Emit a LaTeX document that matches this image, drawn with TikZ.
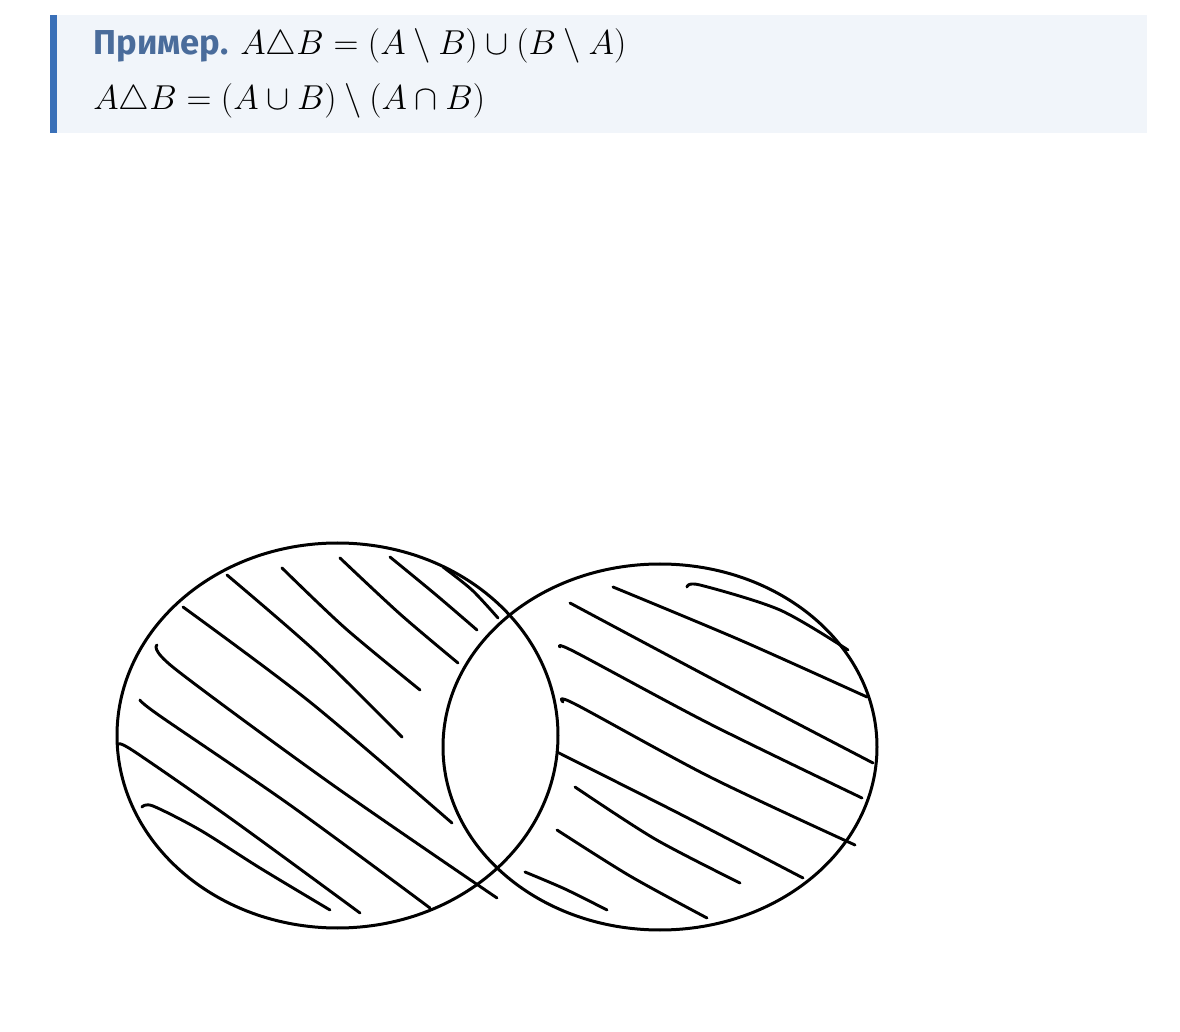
\documentclass[tikz,border=0pt]{standalone}
\usepackage{fontspec}
\newfontfamily\titlefont{Fira Sans}
\usepackage{amsmath}
\usepackage{amssymb}
\usepackage{xcolor}
\usetikzlibrary{calc}

\definecolor{boxbg}{RGB}{241,245,250}
\definecolor{barblue}{RGB}{58,112,184}
\definecolor{titleblue}{RGB}{74,108,155}

\begin{document}
\begin{tikzpicture}[x=0.5pt, y=-0.5pt,
        setline/.style = {draw=black, line width=1.5pt},
        hatch/.style   = {draw=black, line width=1.45pt, line cap=round, line join=round},
        eqtext/.style  = {anchor=base west, inner sep=0pt, font=\fontsize{16.9}{20}\selectfont},
        headtext/.style= {anchor=base west, inner sep=0pt, text=titleblue, font=\titlefont\bfseries\fontsize{17.3}{20}\selectfont}
    ]

    \useasboundingbox (0,0) rectangle (1180,1032);

    % --- HEADER: example box ---
    \fill[boxbg] (50,15) rectangle (1147,133);
    \fill[barblue] (50,15) rectangle (57,133);

    \node[headtext] (title) at (93,55)  {Пример.};
    \node[eqtext]   (eqA)   at (240,55) {$A\triangle B = (A\setminus B)\cup(B\setminus A)$};
    \node[eqtext]   (eqB)   at (93,110) {$A\triangle B = (A\cup B)\setminus(A\cap B)$};

    % --- SETS A and B ---
    \coordinate (setA) at (337.5,735.5);
    \coordinate (setB) at (660,747);

    \draw[setline] (setA) ellipse [x radius=220.5, y radius=192.5];
    \draw[setline] (setB) ellipse [x radius=217, y radius=183];

    % --- hatching of A \ B ---
    \draw[hatch] plot[smooth, tension=0.5] coordinates {(142,807) (153,806) (200,830) (260,868) (330,910)};
    \draw[hatch] plot[smooth, tension=0.5] coordinates {(118,745) (132,750) (230,818) (360,913)};
    \draw[hatch] plot[smooth, tension=0.5] coordinates {(140,700) (160,716) (290,805) (430,908)};
    \draw[hatch] plot[smooth, tension=0.5] coordinates {(157,645) (174,668) (330,783) (497,898)};
    \draw[hatch] plot[smooth, tension=0.5] coordinates {(183,607) (310,702) (452,823)};
    \draw[hatch] plot[smooth, tension=0.5] coordinates {(227,575) (316,652) (402,737)};
    \draw[hatch] plot[smooth, tension=0.5] coordinates {(282,568) (345,628) (420,690)};
    \draw[hatch] plot[smooth, tension=0.5] coordinates {(340,558) (400,614) (458,663)};
    \draw[hatch] plot[smooth, tension=0.5] coordinates {(390,557) (435,594) (477,630)};
    \draw[hatch] plot[smooth, tension=0.5] coordinates {(443,567) (472,590) (498,618)};

    % --- hatching of B \ A ---
    \draw[hatch] plot[smooth, tension=0.5] coordinates {(687,587) (700,585) (780,610) (848,650)};
    \draw[hatch] plot[smooth, tension=0.5] coordinates {(613,587) (740,640) (867,697)};
    \draw[hatch] plot[smooth, tension=0.5] coordinates {(570,603) (720,683) (873,763)};
    \draw[hatch] plot[smooth, tension=0.5] coordinates {(560,647) (575,652) (710,724) (862,798)};
    \draw[hatch] plot[smooth, tension=0.5] coordinates {(563,702) (575,704) (710,777) (855,845)};
    \draw[hatch] plot[smooth, tension=0.5] coordinates {(557,752) (680,814) (803,878)};
    \draw[hatch] plot[smooth, tension=0.5] coordinates {(575,787) (655,839) (740,883)};
    \draw[hatch] plot[smooth, tension=0.5] coordinates {(557,830) (630,876) (707,918)};
    \draw[hatch] plot[smooth, tension=0.5] coordinates {(525,872) (565,889) (607,910)};

\end{tikzpicture}
\end{document}
